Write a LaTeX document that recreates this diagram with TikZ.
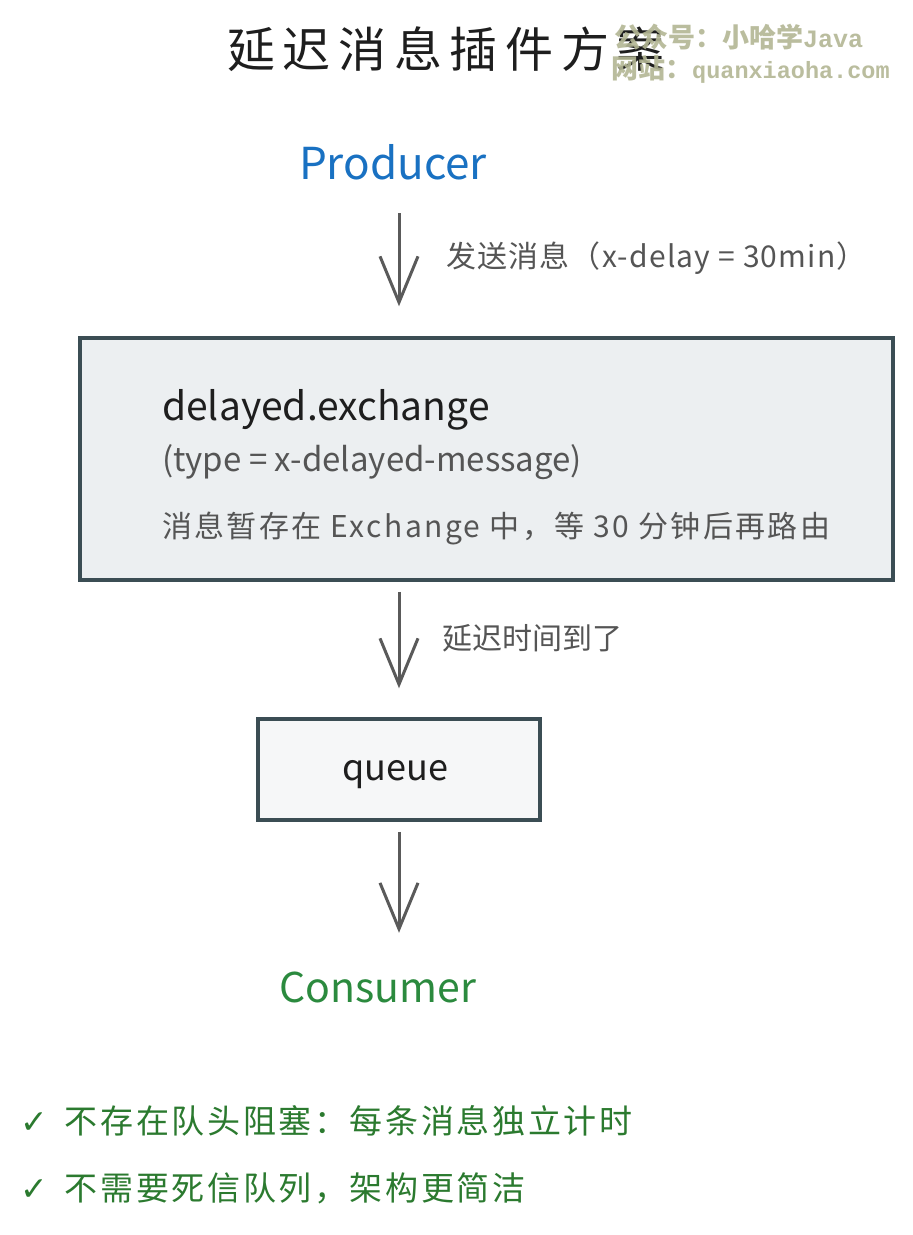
\documentclass[tikz,border=0pt]{standalone}
\usepackage{fontspec}
\usepackage{xcolor}
\usetikzlibrary{arrows.meta}
\setmainfont{Noto Sans CJK SC}
\newfontfamily\wmmono{Liberation Mono}
\newfontfamily\symfont{DejaVu Sans}
\newcommand{\fsz}[1]{\fontsize{#1}{#1}\selectfont}
\definecolor{inkblack}{HTML}{1E1E1E}
\definecolor{inkgray}{HTML}{555555}
\definecolor{arrowgray}{HTML}{5A5A5A}
\definecolor{boxline}{HTML}{3B4D54}
\definecolor{exfill}{HTML}{ECEFF1}
\definecolor{qfill}{HTML}{F6F7F8}
\definecolor{prodblue}{HTML}{1971C2}
\definecolor{consgreen}{HTML}{2B8A3E}
\definecolor{notegreen}{HTML}{2B7A2F}
\definecolor{wmark}{HTML}{B3B694}
\tikzstyle{lbl}=[inner sep=0pt,text height=0.8em,text depth=0.2em]
\tikzstyle{box}=[draw=boxline,line width=3.5pt,inner sep=0pt]
\tikzstyle{flow}=[draw=arrowgray,line width=3pt,-{Straight Barb[length=46pt,width=38pt]}]

\begin{document}
\begin{tikzpicture}[x=1pt,y=-1pt]
	\useasboundingbox (0,0) rectangle (913,1235);
	\fill[white] (0,0) rectangle (913,1235);
	\node [lbl,text=inkblack,font=\fsz{48}] (title) at (446,64) {\addfontfeature{LetterSpace=16}延迟消息插件方案};
	\node [lbl,anchor=west,text=wmark,opacity=0.9,font=\fsz{27}\bfseries] (wm1) at (614,44) {公众号：小哈学{\wmmono\bfseries\fsz{25}Java}};
	\node [lbl,anchor=west,text=wmark,opacity=0.9,font=\fsz{27}\bfseries] (wm2) at (611,75) {网站：{\wmmono\bfseries\fsz{23.5}quanxiaoha.com}};
	\node [lbl,text=prodblue,font=\fsz{44}] (producer) at (393,176) {Producer};
	\node [box,fill=exfill,minimum width=813pt,minimum height=242pt] (exchange) at (486.5,459) {};
	\node [lbl,anchor=west,text=inkblack,font=\fsz{39}] (exname) at (162,417) {delayed.exchange};
	\node [lbl,anchor=west,text=inkgray,font=\fsz{33}] (extype) at (162,468) {(type = x-delayed-message)};
	\node [lbl,anchor=west,text=inkgray,font=\fsz{30}] (exnote) at (162,534) {\addfontfeature{LetterSpace=8}消息暂存在 Exchange 中，等 30 分钟后再路由};
	\node [box,fill=qfill,minimum width=282pt,minimum height=101pt] (queue) at (399,769.5) {};
	\node [lbl,text=inkblack,font=\fsz{36}] (qname) at (395,777) {queue};
	\node [lbl,text=consgreen,font=\fsz{41}] (consumer) at (378,999) {Consumer};
	\node [lbl,anchor=west,text=inkgray,font=\fsz{30}] (sendlbl) at (446,264) {\addfontfeature{LetterSpace=4}发送消息（x-delay = 30min）};
	\node [lbl,anchor=west,text=inkgray,font=\fsz{30}] (expirelbl) at (442,646) {延迟时间到了};
	\draw [flow,shorten <=32pt,shorten >=30pt] (producer.south -| queue) -- (exchange.north -| queue);
	\draw [flow,shorten <=10pt,shorten >=29pt] (exchange.south -| queue) -- (queue.north);
	\draw [flow,shorten <=10pt,shorten >=61pt] (queue.south) -- (consumer.north -| queue);
	\node [lbl,anchor=west,text=notegreen,font=\fsz{33}] (pro1) at (20,1130) {{\symfont ✓}\hspace{17pt}\addfontfeature{LetterSpace=8}不存在队头阻塞：每条消息独立计时};
	\node [lbl,anchor=west,text=notegreen,font=\fsz{33}] (pro2) at (20,1197) {{\symfont ✓}\hspace{17pt}\addfontfeature{LetterSpace=8}不需要死信队列，架构更简洁};
\end{tikzpicture}
\end{document}
